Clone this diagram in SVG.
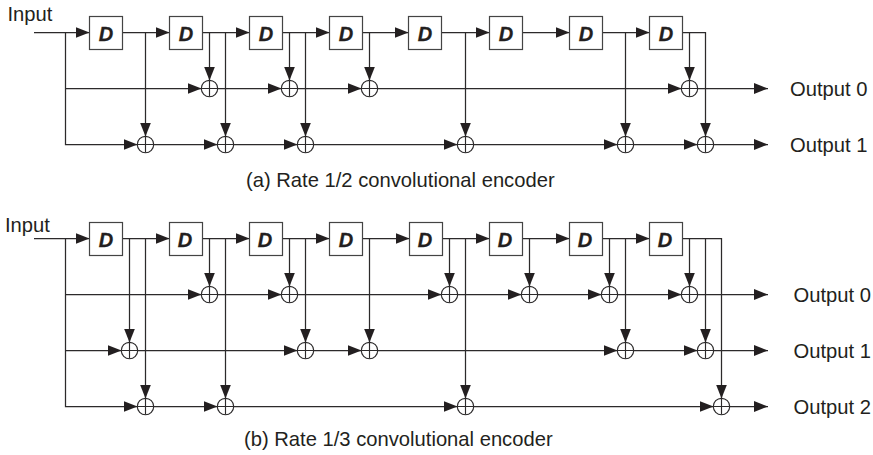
<svg xmlns="http://www.w3.org/2000/svg" width="873" height="455" viewBox="0 0 873 455">
<style>
text{font-family:"Liberation Sans",Arial,sans-serif;font-size:20.2px;fill:#231f20}
.d{font-size:20px;font-weight:bold;font-style:italic;text-anchor:middle;stroke:#231f20;stroke-width:.3}
.box{fill:#fff;stroke:#444;stroke-width:1.2}
.c{fill:none;stroke:#2c2a2b;stroke-width:1.25;marker-end:url(#a)}
.x{fill:none;stroke:#2c2a2b;stroke-width:1.15}
</style>
<defs>
<marker id="a" viewBox="0 0 14 11" refX="14" refY="5.500" markerUnits="userSpaceOnUse" markerWidth="14" markerHeight="11" orient="auto"><path d="M0 0L14 5.500L0 11Z" fill="#231f20"/></marker>
<g id="xor"><circle r="8.200" class="x"/><path d="M-8 0H8M0 -8V8" class="x"/></g>
</defs>
<g id="connectors">
<path class="c" d="M34 32.5H89.5"/><path class="c" d="M122.500 32.5H169.500"/><path class="c" d="M202.500 32.5H249.500"/><path class="c" d="M282.500 32.5H329.500"/><path class="c" d="M362.500 32.5H408.500"/><path class="c" d="M441.500 32.5H489.500"/><path class="c" d="M522.500 32.5H569.500"/><path class="c" d="M602.500 32.5H649.500"/>
<path class="c" d="M682.500 32.500H705.500V136.500"/>
<path class="c" d="M65.500 32.500V144.500H137.500"/>
<path class="c" d="M65.500 88.500H201.500"/><path class="c" d="M217.500 88.500H281.500"/><path class="c" d="M297.500 88.500H361.500"/><path class="c" d="M377.500 88.500H681.500"/><path class="c" d="M697.500 88.500H768"/>
<path class="c" d="M153.500 144.500H217.500"/><path class="c" d="M233.500 144.500H297.500"/><path class="c" d="M313.500 144.500H457.500"/><path class="c" d="M473.500 144.500H617.500"/><path class="c" d="M633.500 144.500H697.500"/><path class="c" d="M713.500 144.500H768"/>
<path class="c" d="M145.500 32.500V136.500"/><path class="c" d="M209.500 32.500V80.500"/><path class="c" d="M225.500 32.500V136.500"/><path class="c" d="M289.500 32.500V80.500"/><path class="c" d="M305.500 32.500V136.500"/><path class="c" d="M369.500 32.500V80.500"/><path class="c" d="M465.500 32.500V136.500"/><path class="c" d="M625.500 32.500V136.500"/><path class="c" d="M689.500 32.500V80.500"/>

<path class="c" d="M34 238.500H89.500"/><path class="c" d="M122.500 238.500H169.500"/><path class="c" d="M202.500 238.500H249.500"/><path class="c" d="M282.500 238.500H329.500"/><path class="c" d="M362.500 238.500H409.500"/><path class="c" d="M442.500 238.500H489.500"/><path class="c" d="M522.500 238.500H569.500"/><path class="c" d="M602.500 238.500H649.500"/>
<path class="c" d="M682.500 238.500H721.500V398.500"/>
<path class="c" d="M65.500 238.500V406.500H137.500"/>
<path class="c" d="M65.500 294.500H201.500"/><path class="c" d="M217.500 294.500H281.500"/><path class="c" d="M297.500 294.500H441.500"/><path class="c" d="M457.500 294.500H521.500"/><path class="c" d="M537.500 294.500H601.500"/><path class="c" d="M617.500 294.500H681.500"/><path class="c" d="M697.500 294.500H768"/>
<path class="c" d="M65.500 350.500H121.500"/><path class="c" d="M137.500 350.500H297.500"/><path class="c" d="M313.500 350.500H361.500"/><path class="c" d="M377.500 350.500H617.500"/><path class="c" d="M633.500 350.500H697.500"/><path class="c" d="M713.500 350.500H768"/>
<path class="c" d="M153.500 406.500H217.500"/><path class="c" d="M233.500 406.500H457.500"/><path class="c" d="M473.500 406.500H713.500"/><path class="c" d="M729.500 406.500H768"/>
<path class="c" d="M129.500 238.500V342.500"/><path class="c" d="M145.500 238.500V398.500"/><path class="c" d="M209.500 238.500V286.500"/><path class="c" d="M225.500 238.500V398.500"/><path class="c" d="M289.500 238.500V286.500"/><path class="c" d="M305.500 238.500V342.500"/><path class="c" d="M369.500 238.500V342.500"/><path class="c" d="M449.500 238.500V286.500"/><path class="c" d="M465.500 238.500V398.500"/><path class="c" d="M529.500 238.500V286.500"/><path class="c" d="M609.500 238.500V286.500"/><path class="c" d="M625.500 238.500V342.500"/><path class="c" d="M689.500 238.500V286.500"/><path class="c" d="M705.500 238.500V342.500"/>
</g>
<g id="a-d1"><rect class="box" x="89.500" y="16.500" width="33" height="33"/><text class="d" x="106" y="40.700">D</text></g>
<g id="a-d2"><rect class="box" x="169.500" y="16.500" width="33" height="33"/><text class="d" x="186" y="40.700">D</text></g>
<g id="a-d3"><rect class="box" x="249.500" y="16.500" width="33" height="33"/><text class="d" x="266" y="40.700">D</text></g>
<g id="a-d4"><rect class="box" x="329.500" y="16.500" width="33" height="33"/><text class="d" x="346" y="40.700">D</text></g>
<g id="a-d5"><rect class="box" x="408.500" y="16.500" width="33" height="33"/><text class="d" x="425" y="40.700">D</text></g>
<g id="a-d6"><rect class="box" x="489.500" y="16.500" width="33" height="33"/><text class="d" x="506" y="40.700">D</text></g>
<g id="a-d7"><rect class="box" x="569.500" y="16.500" width="33" height="33"/><text class="d" x="586" y="40.700">D</text></g>
<g id="a-d8"><rect class="box" x="649.500" y="16.500" width="33" height="33"/><text class="d" x="666" y="40.700">D</text></g>
<g id="b-d1"><rect class="box" x="89.500" y="222.500" width="33" height="33"/><text class="d" x="106" y="246.700">D</text></g>
<g id="b-d2"><rect class="box" x="169.500" y="222.500" width="33" height="33"/><text class="d" x="185" y="246.700">D</text></g>
<g id="b-d3"><rect class="box" x="249.500" y="222.500" width="33" height="33"/><text class="d" x="265" y="246.700">D</text></g>
<g id="b-d4"><rect class="box" x="329.500" y="222.500" width="33" height="33"/><text class="d" x="346" y="246.700">D</text></g>
<g id="b-d5"><rect class="box" x="409.500" y="222.500" width="33" height="33"/><text class="d" x="425" y="246.700">D</text></g>
<g id="b-d6"><rect class="box" x="489.500" y="222.500" width="33" height="33"/><text class="d" x="505" y="246.700">D</text></g>
<g id="b-d7"><rect class="box" x="569.500" y="222.500" width="33" height="33"/><text class="d" x="585" y="246.700">D</text></g>
<g id="b-d8"><rect class="box" x="649.500" y="222.500" width="33" height="33"/><text class="d" x="665" y="246.700">D</text></g>
<g id="a-xors">
<use href="#xor" x="209.500" y="88.500"/><use href="#xor" x="289.500" y="88.500"/><use href="#xor" x="369.500" y="88.500"/><use href="#xor" x="689.500" y="88.500"/>
<use href="#xor" x="145.500" y="144.500"/><use href="#xor" x="225.500" y="144.500"/><use href="#xor" x="305.500" y="144.500"/><use href="#xor" x="465.500" y="144.500"/><use href="#xor" x="625.500" y="144.500"/><use href="#xor" x="705.500" y="144.500"/>
</g>
<g id="b-xors">
<use href="#xor" x="209.500" y="294.500"/><use href="#xor" x="289.500" y="294.500"/><use href="#xor" x="449.500" y="294.500"/><use href="#xor" x="529.500" y="294.500"/><use href="#xor" x="609.500" y="294.500"/><use href="#xor" x="689.500" y="294.500"/>
<use href="#xor" x="129.500" y="350.500"/><use href="#xor" x="305.500" y="350.500"/><use href="#xor" x="369.500" y="350.500"/><use href="#xor" x="625.500" y="350.500"/><use href="#xor" x="705.500" y="350.500"/>
<use href="#xor" x="145.500" y="406.500"/><use href="#xor" x="225.500" y="406.500"/><use href="#xor" x="465.500" y="406.500"/><use href="#xor" x="721.500" y="406.500"/>
</g>
<g id="labels">
<text x="7.500" y="21">Input</text>
<text x="790" y="96">Output 0</text>
<text x="790" y="152">Output 1</text>
<text x="246" y="187">(a) Rate 1/2 convolutional encoder</text>
<text x="5" y="232">Input</text>
<text x="793.500" y="302">Output 0</text>
<text x="793.500" y="358">Output 1</text>
<text x="793.500" y="414">Output 2</text>
<text x="244" y="446">(b) Rate 1/3 convolutional encoder</text>
</g>
</svg>
